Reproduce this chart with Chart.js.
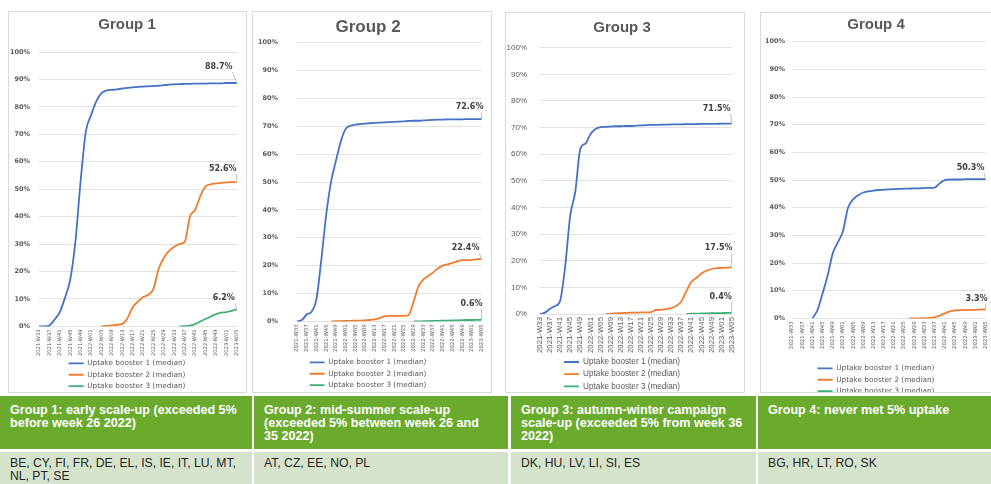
<!DOCTYPE html>
<html>
<head>
<meta charset="utf-8">
<script src="https://cdn.jsdelivr.net/npm/chart.js@4.4.1/dist/chart.umd.min.js"></script>
<style>
  html, body { margin: 0; padding: 0; background: #fff; width: 991px; height: 484px; overflow: hidden; position: relative; }
  .panel { position: absolute; box-sizing: border-box; border: 1px solid #d9d9d9; overflow: hidden; background: #fff; }
  .panel .box { position: absolute; left: 0; top: 0; height: 400px; }
  .cell { position: absolute; box-sizing: border-box; white-space: nowrap; }
  .head { top: 396px; height: 53px; background: #6aab2e; color: #fff; font: bold 12.6px "Liberation Sans", sans-serif; line-height: 13px; padding: 8px 0 0 10px; }
  .body { top: 452px; height: 32px; background: #d6e3cc; color: #262626; font: 12.2px "Liberation Sans", sans-serif; line-height: 13px; padding: 5px 0 0 10px; }
</style>
</head>
<body>

<div class="panel" style="left:8px;top:11px;width:239px;height:382px;"><div class="box" style="width:237px;"><canvas id="g1"></canvas></div></div>
<div class="panel" style="left:252px;top:11px;width:240px;height:382px;"><div class="box" style="width:238px;"><canvas id="g2"></canvas></div></div>
<div class="panel" style="left:505px;top:12px;width:240px;height:381px;"><div class="box" style="width:238px;"><canvas id="g3"></canvas></div></div>
<div class="panel" style="left:760px;top:12px;width:236px;height:381px;"><div class="box" style="width:234px;"><canvas id="g4"></canvas></div></div>

<div class="cell head" style="left:0;width:252px;">Group 1: early scale-up (exceeded 5%<br>before week 26 2022)</div>
<div class="cell head" style="left:254px;width:254px;">Group 2: mid-summer scale-up<br>(exceeded 5% between week 26 and<br>35 2022)</div>
<div class="cell head" style="left:511px;width:245px;">Group 3: autumn-winter campaign<br>scale-up (exceeded 5% from week 36<br>2022)</div>
<div class="cell head" style="left:758px;width:233px;">Group 4: never met 5% uptake</div>

<div class="cell body" style="left:0;width:252px;">BE, CY, FI, FR, DE, EL, IS, IE, IT, LU, MT,<br>NL, PT, SE</div>
<div class="cell body" style="left:254px;width:254px;">AT, CZ, EE, NO, PL</div>
<div class="cell body" style="left:511px;width:245px;">DK, HU, LV, LI, SI, ES</div>
<div class="cell body" style="left:758px;width:233px;">BG, HR, LT, RO, SK</div>

<script>
const _ = null;

// two-week steps, every other one is printed on the axis
const weeks = [
  '2021-W33', '2021-W35', '2021-W37', '2021-W39', '2021-W41', '2021-W43', '2021-W45', '2021-W47', '2021-W49', '2021-W51',
  '2022-W01', '2022-W03', '2022-W05', '2022-W07', '2022-W09', '2022-W11', '2022-W13', '2022-W15', '2022-W17', '2022-W19',
  '2022-W21', '2022-W23', '2022-W25', '2022-W27', '2022-W29', '2022-W31', '2022-W33', '2022-W35', '2022-W37', '2022-W39',
  '2022-W41', '2022-W43', '2022-W45', '2022-W47', '2022-W49', '2022-W51', '2023-W01', '2023-W03', '2023-W05'
];

const seriesNames = ['Uptake booster 1 (median)', 'Uptake booster 2 (median)', 'Uptake booster 3 (median)'];
const groupTitles = ['Group 1', 'Group 2', 'Group 3', 'Group 4'];

// Group 1
const g1Booster1 = [0, 0, 0.3, 2.5, 5.2, 10.5, 17, 31, 53, 71, 77, 82, 85, 86, 86.2, 86.4, 86.7, 86.9, 87.1, 87.3,
  87.4, 87.5, 87.6, 87.7, 87.9, 88.1, 88.2, 88.3, 88.4, 88.4, 88.5, 88.5, 88.5, 88.6, 88.6, 88.6, 88.7, 88.7, 88.7];
const g1Booster2 = [_, _, _, _, _, _, _, _, _, _, _, _, 0, 0.2, 0.4, 0.6, 0.9, 3, 7, 9,
  10.7, 11.5, 13.7, 21, 25, 27.5, 29, 30, 30.8, 40, 42.5, 47.5, 51, 51.8, 52.1, 52.3, 52.5, 52.6, 52.6];
const g1Booster3 = [_, _, _, _, _, _, _, _, _, _, _, _, _, _, _, _, _, _, _, _,
  _, _, _, _, _, _, _, 0, 0.1, 0.3, 0.8, 1.8, 2.7, 3.6, 4.5, 5, 5.2, 5.7, 6.2];

// Group 2
const g2Booster1 = [0, 0.5, 2.5, 3.5, 8, 22, 38, 50, 57.5, 64.5, 69, 70.2, 70.6, 70.8, 71, 71.1, 71.2, 71.3, 71.4, 71.5,
  71.6, 71.7, 71.8, 71.9, 72, 72, 72.1, 72.2, 72.3, 72.4, 72.4, 72.5, 72.5, 72.5, 72.5, 72.6, 72.6, 72.6, 72.6];
const g2Booster2 = [_, _, _, _, _, _, _, 0, 0.1, 0.1, 0.2, 0.2, 0.3, 0.3, 0.4, 0.5, 0.7, 1.2, 1.8, 2,
  2, 2, 2, 2.3, 7, 12.5, 15, 16.3, 17.5, 19, 20, 20.5, 21, 21.5, 22, 22, 22.1, 22.3, 22.4];
const g2Booster3 = [_, _, _, _, _, _, _, _, _, _, _, _, _, _, _, _, _, _, _, _,
  _, _, _, _, 0, 0, 0.05, 0.1, 0.15, 0.2, 0.25, 0.3, 0.35, 0.4, 0.45, 0.5, 0.5, 0.55, 0.6];

// Group 3
const g3Booster1 = [0, 0.5, 2, 3, 5, 18, 37, 46, 62, 64, 67.5, 69.5, 70.2, 70.3, 70.4, 70.5, 70.5, 70.6, 70.6, 70.7,
  70.8, 70.9, 71, 71, 71.1, 71.1, 71.2, 71.2, 71.2, 71.3, 71.3, 71.3, 71.4, 71.4, 71.4, 71.4, 71.5, 71.5, 71.5];
const g3Booster2 = [_, _, _, _, _, _, _, _, _, _, _, _, _, 0, 0.1, 0.2, 0.3, 0.4, 0.5, 0.5,
  0.6, 0.6, 0.7, 1.5, 1.6, 1.8, 2.2, 3, 4.7, 8.5, 12, 13.5, 15.2, 16.2, 16.9, 17.2, 17.3, 17.4, 17.5];
const g3Booster3 = [_, _, _, _, _, _, _, _, _, _, _, _, _, _, _, _, _, _, _, _,
  _, _, _, _, _, _, _, _, _, 0, 0.1, 0.15, 0.2, 0.25, 0.3, 0.3, 0.35, 0.4, 0.4];

// Group 4
const g4Booster1 = [_, _, _, _, 0, 3, 9, 15.5, 23.5, 27.5, 31.5, 40, 43, 44.5, 45.5, 45.9, 46.2, 46.4, 46.5, 46.6,
  46.7, 46.8, 46.9, 46.9, 47, 47, 47.1, 47.2, 47.3, 48.8, 50, 50.2, 50.2, 50.2, 50.3, 50.3, 50.3, 50.3, 50.3];
const g4Booster2 = [_, _, _, _, _, _, _, _, _, _, _, _, _, _, _, _, _, _, _, _,
  _, _, _, 0, 0, 0, 0.1, 0.2, 0.4, 1, 1.8, 2.5, 2.9, 3, 3, 3.1, 3.1, 3.2, 3.3];
const g4Booster3 = [];

const yTicks = [0, 10, 20, 30, 40, 50, 60, 70, 80, 90, 100];

const lineColors = ['#4472c4', '#ed7d31', '#3bb273'];

// last value of each series, with a thin leader line
const endLabelPlugin = {
    id: 'endLabels',
    afterDatasetsDraw(chart, args, opts) {
        const ctx = chart.ctx;
        (opts.items || []).forEach((it, i) => {
            const ds = chart.data.datasets[i];
            if (!ds) return;
            let k = ds.data.length - 1;
            while (k >= 0 && ds.data[k] == null) k--;
            if (k < 0) return;
            const pt = chart.getDatasetMeta(i).data[k];
            const text = ds.data[k].toFixed(1) + '%';
            const lx = pt.x + it.dx, ly = pt.y + it.dy;
            ctx.save();
            ctx.font = 'bold 8px "DejaVu Sans"';
            const w = ctx.measureText(text).width;
            const sx = Math.min(Math.max(pt.x, lx - w / 2), lx + w / 2);
            ctx.strokeStyle = '#b0b0b0';
            ctx.lineWidth = 0.8;
            ctx.beginPath();
            ctx.moveTo(sx, ly + 5);
            ctx.lineTo(pt.x, pt.y);
            ctx.stroke();
            ctx.fillStyle = '#404040';
            ctx.textAlign = 'center';
            ctx.textBaseline = 'middle';
            ctx.fillText(text, lx, ly);
            ctx.restore();
        });
    }
};

function buildChart(id, title, series, look) {
    return new Chart(document.getElementById(id), {
        type: 'line',
        data: {
            labels: weeks,
            datasets: series.map((d, i) => ({
                label: seriesNames[i],
                data: d,
                borderColor: lineColors[i],
                backgroundColor: lineColors[i],
                borderWidth: 1.8,
                pointRadius: 0,
                pointHoverRadius: 0,
                cubicInterpolationMode: 'monotone',
                fill: false
            }))
        },
        options: {
            responsive: true,
            maintainAspectRatio: false,
            animation: false,
            layout: { padding: { left: 0, top: 0, right: look.padRight, bottom: look.padBottom } },
            plugins: {
                title: {
                    display: true,
                    text: title,
                    color: '#595959',
                    font: { family: 'Liberation Sans', size: look.titleSize, weight: 'bold', lineHeight: 1.2 },
                    padding: look.titlePad
                },
                legend: {
                    position: 'bottom',
                    labels: {
                        usePointStyle: true,
                        pointStyle: 'line',
                        pointStyleWidth: 15,
                        padding: 4,
                        color: '#595959',
                        font: { family: look.font, size: look.legendSize }
                    }
                },
                tooltip: { enabled: false },
                endLabels: { items: look.labels }
            },
            scales: {
                x: {
                    grid: { display: false, drawTicks: false },
                    border: { display: false },
                    ticks: {
                        autoSkip: false,
                        maxRotation: 90,
                        minRotation: 90,
                        padding: 3,
                        color: '#595959',
                        font: { family: look.font, size: look.xSize },
                        callback: (v, i) => (i % 2 === 0 ? weeks[i] : '')
                    },
                    afterFit: s => { s.height = look.xHeight; }
                },
                y: {
                    min: yTicks[0],
                    max: yTicks[yTicks.length - 1],
                    afterBuildTicks: s => { s.ticks = yTicks.map(v => ({ value: v })); },
                    grid: { color: '#d9d9d9', lineWidth: 0.8, drawTicks: false },
                    border: { display: false },
                    ticks: {
                        padding: look.yPad,
                        color: '#595959',
                        font: { family: look.font, size: look.ySize, weight: look.yWeight },
                        callback: v => v + '%'
                    },
                    afterFit: s => { s.width = look.yWidth; }
                }
            }
        },
        plugins: [endLabelPlugin]
    });
}

document.addEventListener('DOMContentLoaded', function() {
    buildChart('g1', groupTitles[0], [g1Booster1, g1Booster2, g1Booster3], {
        font: 'DejaVu Sans', titleSize: 15, titlePad: { top: 4, bottom: 18 },
        legendSize: 7.3, xSize: 5.2, ySize: 6.5, yWeight: 'bold',
        yWidth: 30, yPad: 9, xHeight: 29.4, padBottom: 12.3, padRight: 1,
        labels: [{ dx: -18, dy: -16 }, { dx: -14, dy: -13 }, { dx: -13, dy: -11 }]
    });
    buildChart('g2', groupTitles[1], [g2Booster1, g2Booster2, g2Booster3], {
        font: 'DejaVu Sans', titleSize: 17, titlePad: { top: 4.8, bottom: 5.5 },
        legendSize: 7.3, xSize: 5.4, ySize: 6.5, yWeight: 'bold',
        yWidth: 44, yPad: 19, xHeight: 33.4, padBottom: 13.3, padRight: 8,
        labels: [{ dx: -12, dy: -12 }, { dx: -16, dy: -11 }, { dx: -10, dy: -16 }]
    });
    buildChart('g3', groupTitles[2], [g3Booster1, g3Booster2, g3Booster3], {
        font: 'Liberation Sans', titleSize: 15, titlePad: { top: 6, bottom: 10.7 },
        legendSize: 8.2, xSize: 7.8, ySize: 8, yWeight: 'normal',
        yWidth: 34, yPad: 13, xHeight: 39.9, padBottom: 12.5, padRight: 6,
        labels: [{ dx: -15, dy: -15 }, { dx: -13, dy: -19 }, { dx: -11, dy: -16 }]
    });
    buildChart('g4', groupTitles[3], [g4Booster1, g4Booster2, g4Booster3], {
        font: 'DejaVu Sans', titleSize: 15, titlePad: { top: 3, bottom: 7.7 },
        legendSize: 7.3, xSize: 5.4, ySize: 6.5, yWeight: 'bold',
        yWidth: 31, yPad: 7, xHeight: 42.4, padBottom: 8.3, padRight: 4,
        labels: [{ dx: -15, dy: -11 }, { dx: -9, dy: -10 }]
    });
});
</script>
</body>
</html>
